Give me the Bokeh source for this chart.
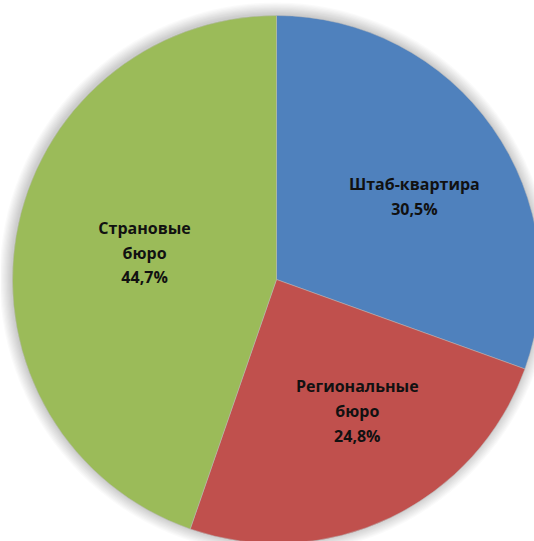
import numpy as np
from bokeh.plotting import figure
from bokeh.models import Range1d, ColumnDataSource
from bokeh.core.properties import value
from bokeh.embed import file_html
from bokeh.resources import INLINE

categories = ["Штаб-квартира", "Региональные\nбюро", "Страновые\nбюро"]
shares = [30.5, 24.8, 44.7]
pct_labels = ["30,5%", "24,8%", "44,7%"]
colors = ["#4F81BD", "#C0504D", "#9BBB59"]

W, H = 534, 541
cx, cy, R = 276, H - 279, 264

frac = np.array(shares) / sum(shares)
cum = np.concatenate([[0], np.cumsum(frac)])
start = np.pi / 2 - 2 * np.pi * cum[:-1]
end = np.pi / 2 - 2 * np.pi * cum[1:]
mid = (start + end) / 2
label_r = np.array([0.61, 0.585, 0.51]) * R
label_turn = np.radians([-4, 6, -2])
lx = cx + label_r * np.cos(mid + label_turn)
ly = cy + label_r * np.sin(mid + label_turn)

src = ColumnDataSource(dict(
    start=start, end=end, color=colors,
    text=[c + "\n" + p for c, p in zip(categories, pct_labels)],
    lx=lx, ly=ly,
))

p = figure(width=W, height=H, x_range=Range1d(0, W), y_range=Range1d(0, H),
           output_backend="svg", toolbar_location=None, min_border=0)
p.axis.visible = False
p.grid.visible = False
p.outline_line_color = None
p.background_fill_color = "white"

# soft shadow
for k in range(10, 0, -1):
    p.circle(x=[cx - 1], y=[cy + 1], radius=R + 1.2 * k, fill_color="#000000",
             fill_alpha=0.02, line_color=None)

p.wedge(x=cx, y=cy, radius=R, start_angle="start", end_angle="end",
        direction="clock", fill_color="color", line_color="#B8B8B8",
        line_width=0.5, source=src)

p.text(x="lx", y="ly", text="text", source=src, text_align="center",
       text_baseline="middle", text_font=value("Open Sans"),
       text_font_style="bold", text_font_size="16px", text_color="#111111",
       text_line_height=1.12)

open("out.html", "w").write(file_html(p, INLINE))
